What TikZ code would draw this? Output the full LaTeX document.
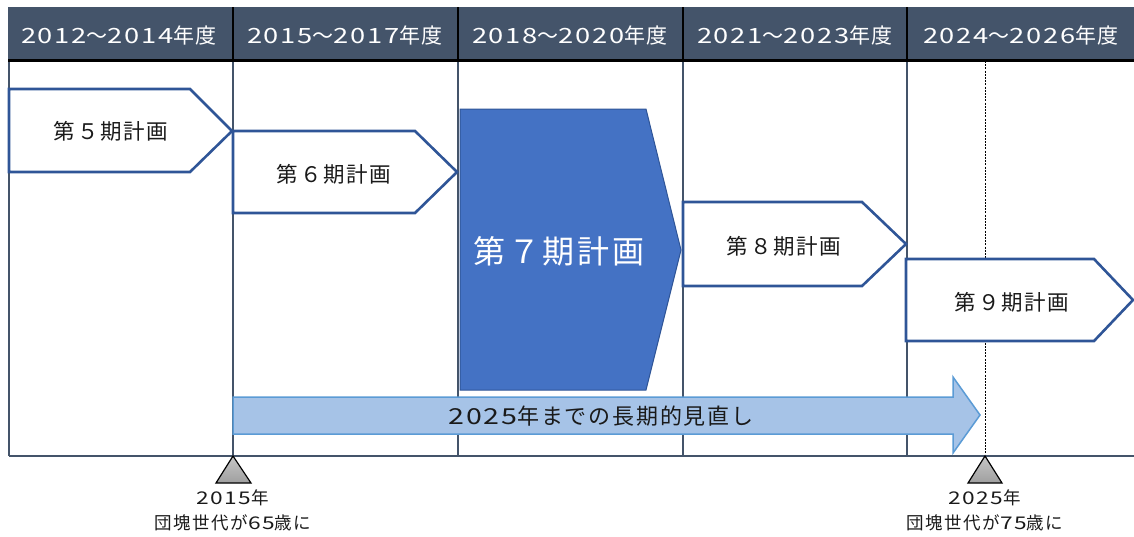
\documentclass[tikz,border=0pt]{standalone}
\usepackage{fontspec}
\setmainfont[LetterSpace=8]{Noto Sans CJK JP}
\newfontfamily\dgfont[FakeStretch=1.3,LetterSpace=8]{Noto Sans CJK JP}
\newcommand\D[1]{{\dgfont #1}}
\definecolor{hdrcol}{HTML}{44546A}
\definecolor{planblue}{HTML}{2F5597}
\definecolor{plan7}{HTML}{4472C4}
\definecolor{longfill}{HTML}{A6C3E7}
\definecolor{longdraw}{HTML}{5B9BD5}
\definecolor{txt}{HTML}{1A1A1A}
\tikzset{
  hdrtext/.style={text=white,font=\fontsize{21}{24}\selectfont,inner sep=0pt},
  gridline/.style={draw=hdrcol,line width=1.7pt},
  planshape/.style={draw=planblue,line width=2.6pt,fill=white,line join=miter},
  plan7shape/.style={draw=planblue,line width=1pt,fill=plan7},
  plantext/.style={text=txt,font=\fontsize{21.5}{25}\selectfont,inner sep=0pt},
  plan7text/.style={text=white,font=\fontsize{32}{38}\selectfont,inner sep=0pt},
  longshape/.style={draw=longdraw,line width=1.5pt,fill=longfill},
  longtext/.style={text=txt,font=\fontsize{22}{26}\selectfont,inner sep=0pt},
  marker/.style={draw=black,line width=1.2pt,top color=gray!45,bottom color=gray!75},
  marktext/.style={text=txt,font=\fontsize{17.5}{20}\selectfont,inner sep=0pt},
  dotline/.style={draw=black,line width=1pt,dash pattern=on 2pt off 1.2pt}
}
\begin{document}
\begin{tikzpicture}[x=1pt,y=-1pt]
\useasboundingbox (0,0) rectangle (1134,536);
% header band
\fill[hdrcol] (8,7) rectangle (1134,60);
\foreach \x in {233,458,683,907} \draw[black,line width=1.6pt] (\x,7) -- (\x,60);
\node[hdrtext] (h1) at (119,35) {\D{2012}～\D{2014}年度};
\node[hdrtext] (h2) at (345,35) {\D{2015}～\D{2017}年度};
\node[hdrtext] (h3) at (570,35) {\D{2018}～\D{2020}年度};
\node[hdrtext] (h4) at (795,35) {\D{2021}～\D{2023}年度};
\node[hdrtext] (h5) at (1021,35) {\D{2024}～\D{2026}年度};
% grid
\foreach \x in {9,233,458,683,907} \draw[gridline] (\x,60) -- (\x,456);
\draw[dotline] (985,61) -- (985,456);
\draw[black,line width=3pt] (8,60) -- (1134,60);
\draw[draw=hdrcol,line width=2.6pt] (9,456) -- (1134,456);
% plans
\draw[planshape] (9,89) -- (190,89) -- (232,131) -- (190,172) -- (9,172) -- cycle;
\node[plantext] (p5) at (111,131) {第５期計画};
\draw[planshape] (233,131) -- (415,131) -- (457,172) -- (415,213) -- (233,213) -- cycle;
\node[plantext] (p6) at (334,174) {第６期計画};
\draw[plan7shape] (460,109) -- (646,109) -- (681,250) -- (646,390) -- (460,390) -- cycle;
\node[plan7text] (p7) at (559,251) {第７期計画};
\draw[planshape] (683,202) -- (862,202) -- (906,244) -- (862,286) -- (683,286) -- cycle;
\node[plantext] (p8) at (784,246) {第８期計画};
\draw[planshape] (906,259) -- (1094,259) -- (1133,300) -- (1094,341) -- (906,341) -- cycle;
\node[plantext] (p9) at (1012,302) {第９期計画};
% long-term arrow
\draw[longshape] (233,397) -- (953,397) -- (953,377) -- (980,415) -- (953,453) -- (953,434) -- (233,434) -- cycle;
\node[longtext] (lt) at (601,416) {\D{2025}年までの長期的見直し};
% markers
\draw[marker] (233,456) -- (251,483) -- (216,483) -- cycle;
\node[marktext] (m1a) at (233,498) {\D{2015}年};
\node[marktext] (m1b) at (233,523) {団塊世代が\D{65}歳に};
\draw[marker] (985,456) -- (1002,483) -- (968,483) -- cycle;
\node[marktext] (m2a) at (985,498) {\D{2025}年};
\node[marktext] (m2b) at (985,523) {団塊世代が\D{75}歳に};
\end{tikzpicture}
\end{document}
